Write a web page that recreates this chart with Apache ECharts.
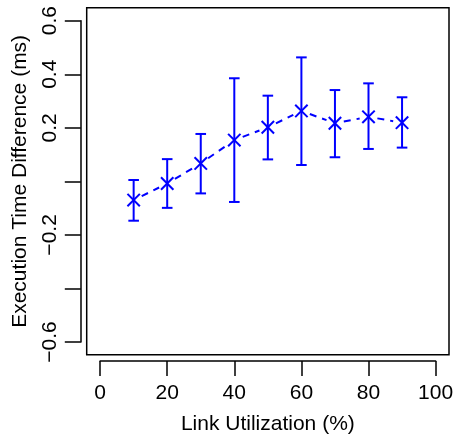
<!DOCTYPE html>
<html>
<head>
<meta charset="utf-8">
<script src="https://cdn.jsdelivr.net/npm/echarts@6/dist/echarts.min.js"></script>
<style>
html,body{margin:0;padding:0;background:#fff;}
#c{width:457px;height:441px;}
</style>
</head>
<body>
<div id="c"></div>
<script>
// ---- data ----
const utilization = [10, 20, 30, 40, 50, 60, 70, 80, 90];
const meanDiff  = [-0.070, -0.008, 0.067, 0.154, 0.202, 0.263, 0.217, 0.241, 0.219];
const upperDiff = [ 0.005,  0.083, 0.177, 0.385, 0.320, 0.463, 0.341, 0.366, 0.314];
const lowerDiff = [-0.147, -0.099, -0.045, -0.077, 0.082, 0.061, 0.090, 0.121, 0.126];
const xTicks = [0, 20, 40, 60, 80, 100];
const xTickLabels = ['0', '20', '40', '60', '80', '100'];
const yTicks = [-0.6, -0.4, -0.2, 0.0, 0.2, 0.4, 0.6];
const yTickLabels = ['\u22120.6', '', '\u22120.2', '', '0.2', '0.4', '0.6'];
const xTitle = 'Link Utilization (%)';
const yTitle = 'Execution Time Difference (ms)';

// ---- style ----
const BLUE = '#0000FF';
const FONT = "'Liberation Sans', Arial, Helvetica, sans-serif";
const axisLineStyle = { color: '#000', width: 1.5 };

function nearestLabel(v, ticks, labels) {
  let best = 0, bd = Infinity;
  ticks.forEach((t, i) => { const d = Math.abs(t - v); if (d < bd) { bd = d; best = i; } });
  return bd < 1e-6 ? labels[best] : '';
}

const errData = utilization.map((x, i) => [x, lowerDiff[i], upperDiff[i]]);
const ptData = utilization.map((x, i) => [x, meanDiff[i]]);
const segData = [];
for (let i = 0; i < utilization.length - 1; i++) {
  segData.push([utilization[i], meanDiff[i], utilization[i + 1], meanDiff[i + 1]]);
}

const chart = echarts.init(document.getElementById('c'), null, { renderer: 'canvas' });
chart.setOption({
  animation: false,
  backgroundColor: '#fff',
  grid: [
    { left: 86.7, top: 7.85, width: 362.3, height: 347, show: true,
      borderColor: '#000', borderWidth: 1.5, backgroundColor: 'transparent' },
    { left: 100.1, top: 20.7, width: 335.5, height: 321.3 }
  ],
  xAxis: [
    { gridIndex: 0, type: 'value', min: -4, max: 104, show: false },
    { gridIndex: 1, type: 'value', min: 0, max: 100, interval: 20, offset: 19,
      axisLine: { show: true, onZero: false, lineStyle: axisLineStyle },
      axisTick: { show: true, length: 15, lineStyle: axisLineStyle },
      splitLine: { show: false },
      axisLabel: { margin: 22, fontSize: 21, color: '#000', fontFamily: FONT,
        formatter: v => nearestLabel(v, xTicks, xTickLabels) },
      name: xTitle, nameLocation: 'middle', nameGap: 53,
      nameTextStyle: { fontSize: 21, color: '#000', fontFamily: FONT } }
  ],
  yAxis: [
    { gridIndex: 0, type: 'value', min: -0.648, max: 0.648, show: false },
    { gridIndex: 1, type: 'value', min: -0.6, max: 0.6, interval: 0.2, offset: 19.3,
      axisLine: { show: true, onZero: false, lineStyle: axisLineStyle },
      axisTick: { show: true, length: 16, lineStyle: axisLineStyle },
      splitLine: { show: false },
      axisLabel: { rotate: 90, margin: 20, fontSize: 21, color: '#000', fontFamily: FONT,
        showMinLabel: true, showMaxLabel: true,
        formatter: v => nearestLabel(v, yTicks, yTickLabels) },
      name: yTitle, nameLocation: 'middle', nameGap: 50,
      nameTextStyle: { fontSize: 21, color: '#000', fontFamily: FONT } }
  ],
  series: [
    {
      type: 'custom', xAxisIndex: 1, yAxisIndex: 1, data: segData,
      encode: { x: [0, 2], y: [1, 3] },
      renderItem: function (params, api) {
        const p1 = api.coord([api.value(0), api.value(1)]);
        const p2 = api.coord([api.value(2), api.value(3)]);
        const dx = p2[0] - p1[0], dy = p2[1] - p1[1];
        const L = Math.sqrt(dx * dx + dy * dy);
        const g = 9;
        if (L <= 2 * g) return null;
        const ux = dx / L, uy = dy / L;
        return {
          type: 'line',
          shape: { x1: p1[0] + ux * g, y1: p1[1] + uy * g, x2: p2[0] - ux * g, y2: p2[1] - uy * g },
          style: { stroke: BLUE, lineWidth: 2, lineDash: [7, 6], fill: null }
        };
      }
    },
    {
      type: 'custom', xAxisIndex: 1, yAxisIndex: 1, data: errData,
      encode: { x: 0, y: [1, 2] },
      renderItem: function (params, api) {
        const lo = api.coord([api.value(0), api.value(1)]);
        const hi = api.coord([api.value(0), api.value(2)]);
        const w = 5.3;
        const st = { stroke: BLUE, lineWidth: 2, fill: null };
        return {
          type: 'group',
          children: [
            { type: 'line', shape: { x1: lo[0], y1: lo[1], x2: hi[0], y2: hi[1] }, style: st },
            { type: 'line', shape: { x1: lo[0] - w, y1: lo[1], x2: lo[0] + w, y2: lo[1] }, style: st },
            { type: 'line', shape: { x1: hi[0] - w, y1: hi[1], x2: hi[0] + w, y2: hi[1] }, style: st }
          ]
        };
      }
    },
    {
      type: 'custom', xAxisIndex: 1, yAxisIndex: 1, data: ptData,
      encode: { x: 0, y: 1 },
      renderItem: function (params, api) {
        const p = api.coord([api.value(0), api.value(1)]);
        const s = 6.2;
        const st = { stroke: BLUE, lineWidth: 2, fill: null };
        return {
          type: 'group',
          children: [
            { type: 'line', shape: { x1: p[0] - s, y1: p[1] - s, x2: p[0] + s, y2: p[1] + s }, style: st },
            { type: 'line', shape: { x1: p[0] - s, y1: p[1] + s, x2: p[0] + s, y2: p[1] - s }, style: st }
          ]
        };
      }
    }
  ]
});
</script>
</body>
</html>
